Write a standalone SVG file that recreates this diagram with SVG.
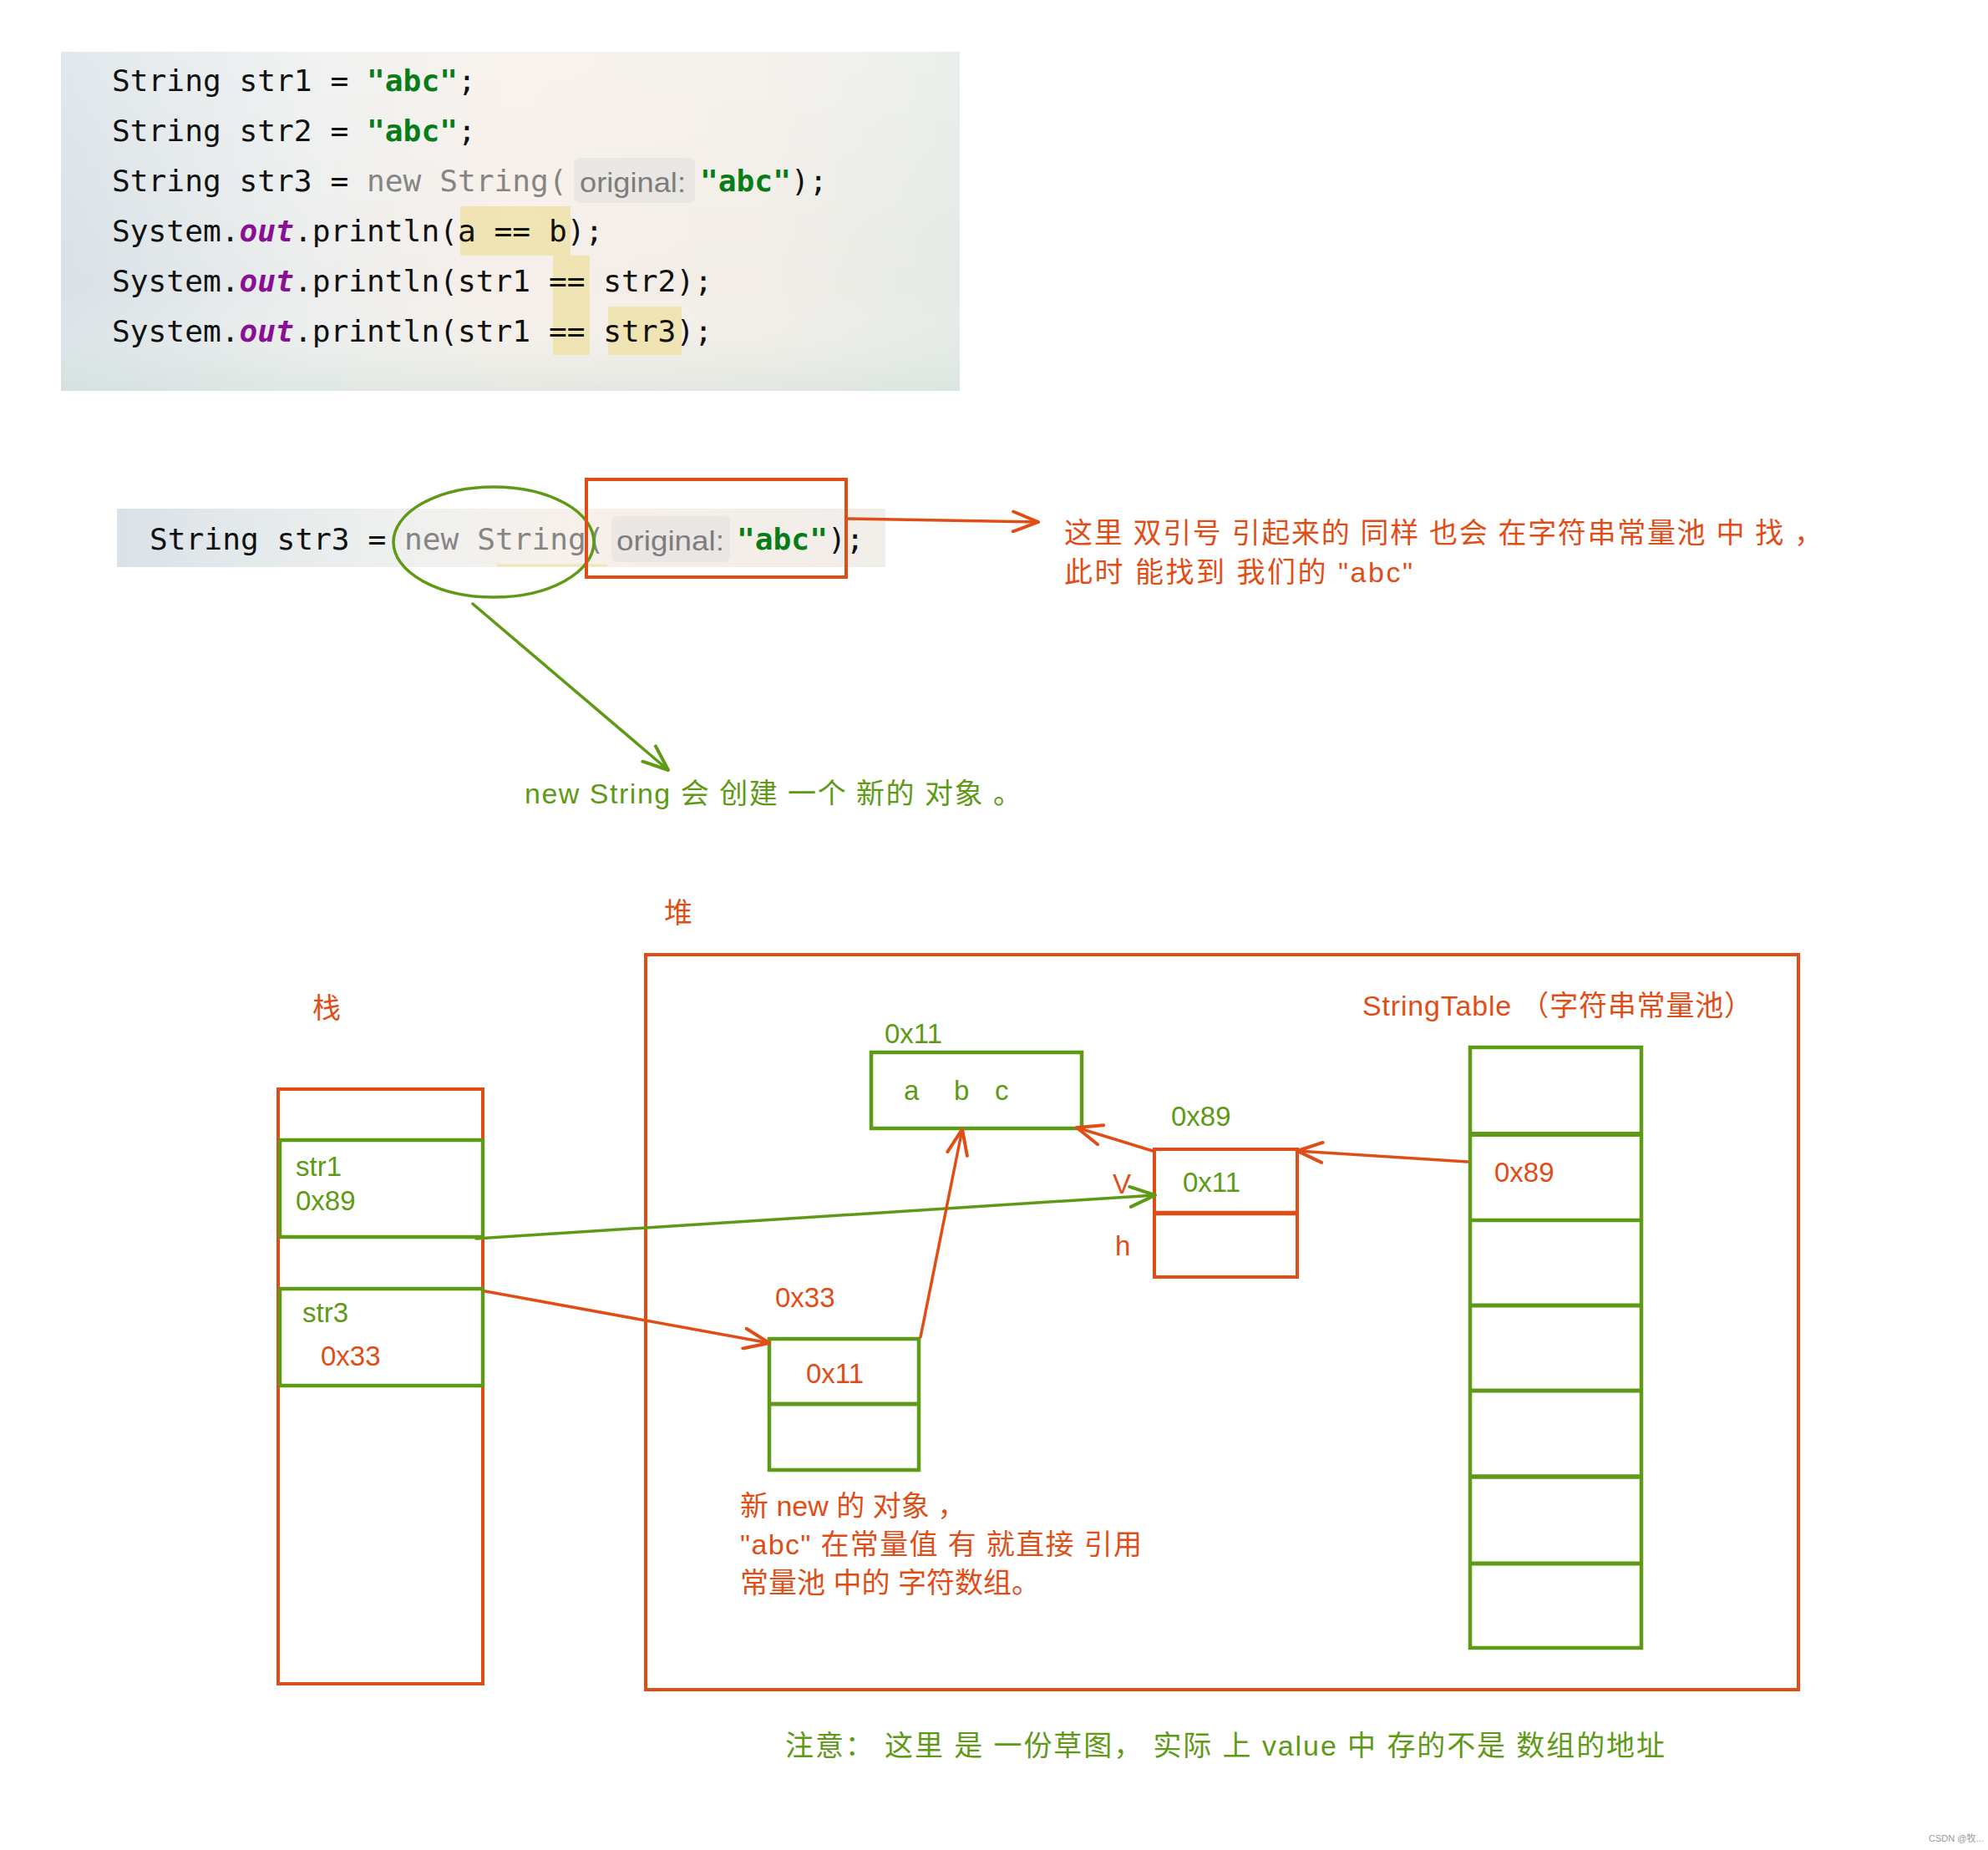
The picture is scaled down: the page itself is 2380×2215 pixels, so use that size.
<svg xmlns="http://www.w3.org/2000/svg" width="2380" height="2215" viewBox="0 0 2380 2215">
<defs>
<style>
.bg{fill:#ffffff}
.code{font-family:"DejaVu Sans Mono","Liberation Mono",monospace;font-size:36.2px;fill:#111111}
.kw{fill:#858585}
.str{fill:#067d17;font-weight:bold}
.fld{fill:#871094;font-style:italic;font-weight:bold}
.hint{font-family:"Liberation Sans","Noto Sans",sans-serif;font-size:34px;fill:#7d7d7d}
.hintbg{fill:#dedede;fill-opacity:0.5}
.hl{fill:#eedd96;fill-opacity:0.65}
.o{fill:none;stroke:#e04e18;stroke-width:4}
.g{fill:none;stroke:#5e9a16;stroke-width:4.5}
.t{font-family:"Liberation Sans","Noto Sans CJK SC",sans-serif;font-size:33px}
.cj{font-family:"Liberation Sans","Noto Sans CJK SC",sans-serif;font-size:34px}
.to{fill:#e04e18}
.tg{fill:#5e9a16}
.lo{fill:none;stroke:#e04e18;stroke-width:3.5;stroke-linecap:round}
.lg{fill:none;stroke:#5e9a16;stroke-width:3.5;stroke-linecap:round}
</style>
<linearGradient id="pic" x1="0" y1="0" x2="1" y2="0">
<stop offset="0" stop-color="#d8e1e6"/>
<stop offset="0.28" stop-color="#eceeed"/>
<stop offset="0.5" stop-color="#f7efe9"/>
<stop offset="0.78" stop-color="#f2ede7"/>
<stop offset="1" stop-color="#e4eae6"/>
</linearGradient>
<linearGradient id="picv" x1="0" y1="0" x2="0" y2="1">
<stop offset="0" stop-color="#ffffff" stop-opacity="0.25"/>
<stop offset="0.7" stop-color="#ffffff" stop-opacity="0"/>
<stop offset="1" stop-color="#cfe0d8" stop-opacity="0.45"/>
</linearGradient>
<linearGradient id="pic2" x1="0" y1="0" x2="1" y2="0">
<stop offset="0" stop-color="#dae2e8"/>
<stop offset="0.35" stop-color="#eef0ef"/>
<stop offset="0.6" stop-color="#f8f0ea"/>
<stop offset="1" stop-color="#f1ede8"/>
</linearGradient>
<marker id="ao" viewBox="0 0 34 28" refX="32" refY="14" markerWidth="34" markerHeight="28" markerUnits="userSpaceOnUse" orient="auto">
<path d="M2,2 L32,14 L2,26" fill="none" stroke="#e04e18" stroke-width="4" stroke-linecap="round" stroke-linejoin="round"/>
</marker>
<marker id="ag" viewBox="0 0 34 28" refX="32" refY="14" markerWidth="34" markerHeight="28" markerUnits="userSpaceOnUse" orient="auto">
<path d="M2,2 L32,14 L2,26" fill="none" stroke="#5e9a16" stroke-width="4" stroke-linecap="round" stroke-linejoin="round"/>
</marker>
</defs>
<rect class="bg" x="0" y="0" width="2380" height="2215"/>

<g id="code-block">
<rect x="73" y="62" width="1076" height="406" fill="url(#pic)"/>
<rect x="73" y="62" width="1076" height="406" fill="url(#picv)"/>
<rect class="hl" x="551" y="247" width="132" height="59"/>
<rect class="hl" x="662" y="306" width="44" height="119"/>
<rect class="hl" x="728" y="367" width="88" height="58"/>
<text class="code" x="134" y="109">String str1 = <tspan class="str">"abc"</tspan>;</text>
<text class="code" x="134" y="169">String str2 = <tspan class="str">"abc"</tspan>;</text>
<text class="code" x="134" y="229">String str3 = <tspan class="kw">new String(</tspan></text>
<rect class="hintbg" x="687" y="189" width="145" height="54" rx="7"/>
<text class="hint" x="694" y="230" textLength="127" lengthAdjust="spacingAndGlyphs">original:</text>
<text class="code" x="838" y="229"><tspan class="str">"abc"</tspan>);</text>
<text class="code" x="134" y="289">System.<tspan class="fld">out</tspan>.println(a == b);</text>
<text class="code" x="134" y="349">System.<tspan class="fld">out</tspan>.println(str1 == str2);</text>
<text class="code" x="134" y="409">System.<tspan class="fld">out</tspan>.println(str1 == str3);</text>
</g>

<g id="code-line">
<rect x="140" y="609" width="920" height="70" fill="url(#pic2)"/>
<line x1="595" y1="677" x2="727" y2="677" stroke="#f1e6b6" stroke-width="3"/>
<text class="code" x="179" y="658">String str3 = <tspan class="kw">new String(</tspan></text>
<rect class="hintbg" x="732" y="618" width="142" height="55" rx="7"/>
<text class="hint" x="738" y="659" textLength="129" lengthAdjust="spacingAndGlyphs">original:</text>
<text class="code" x="882" y="658"><tspan class="str">"abc"</tspan>);</text>
</g>

<g id="new-string-ellipse">
<ellipse cx="591" cy="649" rx="120" ry="66" fill="none" stroke="#5e9a16" stroke-width="3.5"/>
</g>
<g id="literal-box">
<rect class="o" x="702" y="574" width="311" height="117"/>
</g>

<g id="note-literal">
<text class="cj to" font-size="36" x="1274" y="650" textLength="908" lengthAdjust="spacing">这里 双引号 引起来的 同样 也会 在字符串常量池 中 找 ，</text>
<text class="cj to" font-size="36" x="1274" y="697" textLength="417" lengthAdjust="spacing">此时 能找到 我们的  "abc"</text>
</g>
<g id="note-new">
<text class="cj tg" font-size="36" x="628" y="962" textLength="595" lengthAdjust="spacing">new String  会 创建 一个 新的 对象 。</text>
</g>

<g id="stack">
<text class="cj to" font-size="36" x="374" y="1219">栈</text>
<rect class="o" x="333" y="1304" width="245" height="712"/>
</g>
<g id="stack-str1">
<rect class="g" x="335" y="1365" width="243" height="116"/>
<text class="t tg" x="354" y="1408">str1</text>
<text class="t tg" x="354" y="1449">0x89</text>
</g>
<g id="stack-str3">
<rect class="g" x="335" y="1543" width="243" height="116"/>
<text class="t tg" x="362" y="1583">str3</text>
<text class="t to" x="384" y="1635">0x33</text>
</g>

<g id="heap">
<text class="cj to" font-size="36" x="795" y="1105">堆</text>
<rect class="o" x="773" y="1143" width="1380" height="880"/>
</g>

<g id="char-array">
<text class="t tg" x="1059" y="1249">0x11</text>
<rect class="g" x="1043" y="1260" width="252" height="91"/>
<text class="t tg" x="1082" y="1317">a</text>
<text class="t tg" x="1142" y="1317">b</text>
<text class="t tg" x="1191" y="1317">c</text>
</g>

<g id="string-0x89">
<text class="t tg" x="1402" y="1348">0x89</text>
<rect class="o" x="1382" y="1376" width="171" height="153"/>
<line x1="1382" y1="1452.5" x2="1553" y2="1452.5" stroke="#e04e18" stroke-width="5.5"/>
<text class="t tg" x="1416" y="1427">0x11</text>
<text class="t to" x="1332" y="1429">V</text>
<text class="t to" x="1335" y="1503">h</text>
</g>

<g id="string-0x33">
<text class="t to" x="928" y="1565">0x33</text>
<rect class="g" x="921" y="1603" width="179" height="157"/>
<line x1="921" y1="1681" x2="1100" y2="1681" stroke="#5e9a16" stroke-width="5"/>
<text class="t to" x="965" y="1656">0x11</text>
</g>

<g id="string-table">
<text class="cj to" font-size="35" x="1631" y="1216" textLength="467" lengthAdjust="spacing">StringTable （字符串常量池）</text>
<rect class="g" x="1760" y="1254" width="205" height="719"/>
<line x1="1760" y1="1358" x2="1965" y2="1358" stroke="#5e9a16" stroke-width="6"/>
<line x1="1760" y1="1461" x2="1965" y2="1461" stroke="#5e9a16" stroke-width="4.5"/>
<line x1="1760" y1="1563" x2="1965" y2="1563" stroke="#5e9a16" stroke-width="5"/>
<line x1="1760" y1="1665" x2="1965" y2="1665" stroke="#5e9a16" stroke-width="5"/>
<line x1="1760" y1="1768" x2="1965" y2="1768" stroke="#5e9a16" stroke-width="5.5"/>
<line x1="1760" y1="1872" x2="1965" y2="1872" stroke="#5e9a16" stroke-width="5"/>
<text class="t to" x="1789" y="1415">0x89</text>
</g>

<g id="note-object">
<text class="cj to" x="886" y="1815">新 new 的 对象 ，</text>
<text class="cj to" x="886" y="1861" textLength="481" lengthAdjust="spacing">"abc" 在常量值 有 就直接 引用</text>
<text class="cj to" x="886" y="1907">常量池 中的 字符数组。</text>
</g>

<g id="note-bottom">
<text class="cj tg" font-size="35" x="940" y="2102" textLength="1053" lengthAdjust="spacing">注意： 这里 是 一份草图， 实际 上 value 中 存的不是 数组的地址</text>
</g>

<g id="connectors">
<line class="lo" x1="1014" y1="621" x2="1243" y2="625" marker-end="url(#ao)"/>
<line class="lg" x1="566" y1="723" x2="800" y2="922" marker-end="url(#ag)"/>
<line class="lg" x1="570" y1="1483" x2="1383" y2="1431" marker-end="url(#ag)"/>
<line class="lo" x1="581" y1="1546" x2="921" y2="1608" marker-end="url(#ao)"/>
<line class="lo" x1="1102" y1="1601" x2="1152" y2="1352" marker-end="url(#ao)"/>
<line class="lo" x1="1380" y1="1378" x2="1289" y2="1350" marker-end="url(#ao)"/>
<line class="lo" x1="1757" y1="1391" x2="1553" y2="1378" marker-end="url(#ao)"/>
</g>

<text x="2309" y="2205" font-family="Liberation Sans,Noto Sans CJK SC,sans-serif" font-size="11" fill="#9a9a9a">CSDN @牧...</text>
</svg>
